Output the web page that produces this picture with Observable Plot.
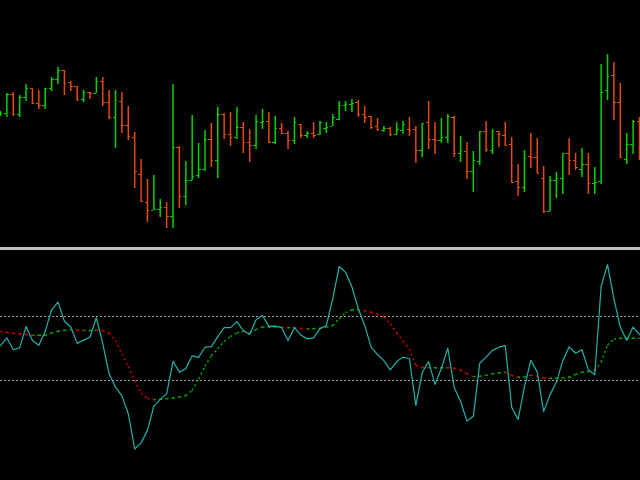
<!DOCTYPE html>
<html>
<head>
<meta charset="utf-8">
<script src="https://cdn.jsdelivr.net/npm/d3@7"></script>
<script src="https://cdn.jsdelivr.net/npm/@observablehq/plot@0.6"></script>
<style>
  html, body { margin: 0; padding: 0; background: #000; }
  #chart { width: 640px; height: 480px; background: #000; overflow: hidden; }
  #chart svg { display: block; }
  #sep { height: 3px; background: #c0c0c0; }
</style>
</head>
<body>
<div id="chart"></div>
<script>
// Price bars (arbitrary price points)
const open  = [136,137,156,136,153,162,147,145,162,171,180,168,164,151,158,157,169,148,133,149,125,113,76,48,40,41,43,34,103,54,70,75,81,111,90,136,116,113,123,108,105,128,129,108,122,117,110,126,115,117,116,122,124,131,145,146,148,136,134,124,120,122,116,120,121,121,100,128,111,110,113,133,97,99,79,89,119,100,119,115,106,69,63,94,93,72,39,70,72,97,90,81,86,67,69,160,175,148,91,106,129];
const close = [137,156,136,153,162,147,145,162,171,180,167,164,151,158,157,169,148,133,150,125,114,79,49,40,41,43,34,103,54,70,74,81,111,90,136,116,113,123,108,105,129,129,108,122,117,110,128,115,117,115,128,123,133,145,146,147,136,133,123,121,122,116,121,126,120,100,127,111,110,113,134,97,99,79,90,119,101,119,116,105,68,63,92,93,77,39,70,72,97,90,83,86,67,68,158,174,148,93,106,129,110];
const high  = [139,157,158,155,166,162,160,162,173,183,180,169,164,160,158,173,173,160,160,158,144,118,91,71,75,51,48,166,104,89,135,107,120,127,143,137,138,143,128,121,135,141,138,134,127,119,133,126,119,128,129,128,136,149,149,151,150,144,134,132,124,123,128,129,133,124,127,149,128,132,136,134,114,108,99,119,129,121,119,128,113,86,100,117,112,84,74,78,97,112,97,102,97,83,186,196,188,167,117,130,133];
const low   = [134,133,134,133,149,146,141,141,159,166,155,159,149,148,151,157,144,131,102,117,110,62,48,28,40,33,22,22,42,45,70,72,79,83,72,111,104,111,97,88,101,121,107,106,116,101,106,112,112,112,115,117,124,130,139,138,133,127,121,119,118,114,115,116,114,87,93,101,96,107,107,93,88,71,58,85,98,96,103,104,68,54,58,82,77,37,39,52,56,75,80,73,56,56,66,150,130,92,86,96,90];

// Oscillator (main line) and its signal line
const osc = [10,34,-3,3,70,26,11,55,122,146,86,68,17,27,36,97,16,-78,-120,-147,-203,-313,-294,-255,-179,-159,-141,-39,-73,-62,-22,-27,5,7,38,66,66,85,57,45,91,104,70,71,66,26,66,43,31,34,63,73,157,257,239,193,125,73,5,-18,-37,-66,-40,-26,-31,-177,-74,-40,-111,-61,2,-121,-164,-226,-211,-45,-26,-5,5,10,-183,-221,-118,-36,-73,-196,-144,-104,-37,6,-14,-3,-66,-81,195,263,156,68,26,68,44];
const signal = [54,51,48,47,45,42,42,42,49,55,58,59,58,57,57,58,57,49,26,-16,-55,-99,-139,-155,-159,-158,-156,-154,-151,-146,-130,-94,-55,-21,0,23,38,50,54,50,60,68,68,68,67,66,66,64,63,63,64,68,73,94,113,122,122,119,114,109,99,78,50,24,0,-52,-58,-59,-59,-59,-59,-61,-66,-78,-87,-86,-83,-78,-75,-73,-83,-89,-88,-83,-86,-91,-92,-92,-91,-89,-80,-73,-71,-68,-42,12,31,33,33,33,33];
const levels = [100, -100];

const UP = "#00d200", DOWN = "#e44a08";
const bars = open.map((o, i) => ({i, open: o, close: close[i], high: high[i], low: low[i]}));
const barColor = d => d.close >= d.open ? UP : DOWN;
const xDomain = [0, 100.16];

const pricePanel = Plot.plot({
  width: 640, height: 247, margin: 0,
  style: {background: "#000"},
  x: {domain: xDomain, axis: null},
  y: {domain: [3, 250], axis: null},
  marks: [
    Plot.ruleX(bars, {x: "i", y1: "low", y2: "high", stroke: barColor, strokeWidth: 1.5}),
    Plot.ruleY(bars, {y: "open", x1: d => d.i - 0.38, x2: d => d.i, stroke: barColor, strokeWidth: 1.2, shapeRendering: "crispEdges"}),
    Plot.ruleY(bars, {y: "close", x1: d => d.i, x2: d => d.i + 0.38, stroke: barColor, strokeWidth: 1.2, shapeRendering: "crispEdges"})
  ]
});

const oscData = osc.map((v, i) => ({i, v}));
const segs = signal.slice(0, -1).map((v, i) => ({i, a: v, b: signal[i + 1]}));

const oscPanel = Plot.plot({
  width: 640, height: 230, margin: 0,
  style: {background: "#000"},
  x: {domain: xDomain, axis: null},
  y: {domain: [-411.6, 307.2], axis: null},
  marks: [
    Plot.ruleY(levels, {stroke: "#a8a8a8", strokeDasharray: "2,2", strokeWidth: 1, shapeRendering: "crispEdges"}),
    Plot.link(segs, {x1: "i", x2: d => d.i + 1, y1: "a", y2: "b",
      stroke: d => d.b >= d.a ? "#00b000" : "#d00000", strokeDasharray: "2,3", strokeWidth: 1.5}),
    Plot.line(oscData, {x: "i", y: "v", stroke: "#20b2aa", strokeWidth: 1.2})
  ]
});

const chart = document.getElementById("chart");
chart.appendChild(pricePanel);
const sep = document.createElement("div");
sep.id = "sep";
chart.appendChild(sep);
chart.appendChild(oscPanel);
</script>
</body>
</html>
